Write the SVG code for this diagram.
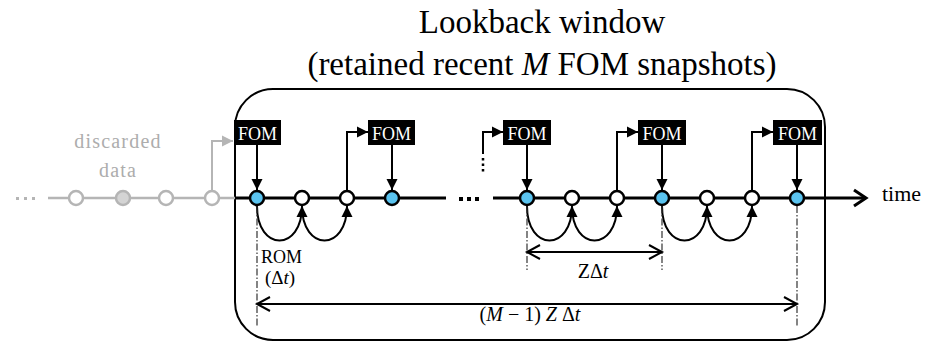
<svg xmlns="http://www.w3.org/2000/svg" width="934" height="344" viewBox="0 0 934 344">
  <style>
    .serif { font-family: "Liberation Serif", "Times New Roman", serif; }
    .title { font-family: "Liberation Serif", "Times New Roman", serif; font-size: 33px; fill: #000; text-anchor: middle; }
    .fomtxt { font-family: "Liberation Serif", "Times New Roman", serif; font-size: 18px; fill: #fff; text-anchor: middle; }
    .fombox { fill: #000; }
    .lbl { font-family: "Liberation Serif", "Times New Roman", serif; font-size: 18px; fill: #000; }
    .math { font-family: "Liberation Serif", "Times New Roman", serif; font-size: 20px; fill: #000; text-anchor: middle; }
    .gray { font-family: "Liberation Serif", "Times New Roman", serif; font-size: 20px; fill: #adadad; text-anchor: middle; letter-spacing: 1.2px; }
    .it { font-style: italic; }
    .axis { stroke: #000; stroke-width: 3; fill: none; }
    .axisg { stroke: #b5b5b5; stroke-width: 2.5; fill: none; }
    .link { stroke: #000; stroke-width: 2; fill: none; }
    .linkg { stroke: #b5b5b5; stroke-width: 2; fill: none; }
    .dd { stroke: #333; stroke-width: 1.2; stroke-dasharray: 7 2 1.5 2; fill: none; }
    .dim { stroke: #000; stroke-width: 2; fill: none; }
    .full { fill: #5ac3ef; stroke: #000; stroke-width: 2.5; }
    .rom { fill: #fff; stroke: #000; stroke-width: 2.5; }
    .old { fill: #fff; stroke: #b5b5b5; stroke-width: 2.5; }
    .oldf { fill: #d4d4d4; stroke: #b5b5b5; stroke-width: 2.5; }
  </style>
  <defs>
    <marker id="tri" markerUnits="userSpaceOnUse" markerWidth="12" markerHeight="12" viewBox="0 0 12 12" refX="11" refY="6" orient="auto">
      <path d="M0,0.5 L11,6 L0,11.5 Z" fill="#000"/>
    </marker>
    <marker id="trig" markerUnits="userSpaceOnUse" markerWidth="12" markerHeight="12" viewBox="0 0 12 12" refX="11" refY="6" orient="auto">
      <path d="M0,0.5 L11,6 L0,11.5 Z" fill="#b5b5b5"/>
    </marker>
    <marker id="chev" markerUnits="userSpaceOnUse" markerWidth="18" markerHeight="18" viewBox="0 0 18 18" refX="15" refY="9" orient="auto-start-reverse">
      <path d="M2,2 L15,9 L2,16" fill="none" stroke="#000" stroke-width="2"/>
    </marker>
  </defs>

  <!-- title -->
  <g id="title">
    <text class="title" x="542" y="33">Lookback window</text>
    <text class="title" x="542" y="75">(retained recent <tspan class="it">M</tspan> FOM snapshots)</text>
  </g>

  <!-- lookback window frame -->
  <g id="window">
    <rect x="235" y="89" width="590" height="251" rx="38" ry="38" fill="none" stroke="#000" stroke-width="2"/>
  </g>

  <!-- discarded history -->
  <g id="discarded">
    <text class="gray" x="118" y="148">discarded</text>
    <text class="gray" x="118" y="177">data</text>
    <rect x="16" y="197" width="3" height="3" fill="#b5b5b5"/>
    <rect x="24" y="197" width="3" height="3" fill="#b5b5b5"/>
    <rect x="32" y="197" width="3" height="3" fill="#b5b5b5"/>
  </g>

  <!-- connectors -->
  <g id="connectors">
    <!-- time axis -->
    <path class="axisg" d="M48,198 H235"/>
    <path class="axis" d="M235,198 H446"/>
    <path class="axis" d="M493,198 H866"/>
    <path d="M854,190 L866,198 L854,206" fill="none" stroke="#000" stroke-width="3"/>
    <rect x="459" y="197" width="4" height="4" fill="#000"/>
    <rect x="467" y="197" width="4" height="4" fill="#000"/>
    <rect x="475" y="197" width="4" height="4" fill="#000"/>

    <!-- FOM snapshots feeding the timeline -->
    <path class="link" d="M257,145 V190" marker-end="url(#tri)"/>
    <path class="link" d="M392,145 V190" marker-end="url(#tri)"/>
    <path class="link" d="M527,145 V190" marker-end="url(#tri)"/>
    <path class="link" d="M662,145 V190" marker-end="url(#tri)"/>
    <path class="link" d="M797,145 V190" marker-end="url(#tri)"/>

    <!-- restart from ROM state to next FOM -->
    <path class="linkg" d="M212,190 V141 H233" marker-end="url(#trig)"/>
    <path class="link" d="M347,190 V132 H368" marker-end="url(#tri)"/>
    <path class="link" d="M483,154 V132 H503" marker-end="url(#tri)"/>
    <path d="M483,158 V173" fill="none" stroke="#000" stroke-width="2.5" stroke-dasharray="2.5 3"/>
    <path class="link" d="M617,190 V132 H638" marker-end="url(#tri)"/>
    <path class="link" d="M752,190 V132 H773" marker-end="url(#tri)"/>

    <!-- ROM steps -->
    <path class="link" d="M257,206 C257,252 302,252 302,206" marker-end="url(#tri)"/>
    <path class="link" d="M302,206 C302,252 347,252 347,206" marker-end="url(#tri)"/>
    <path class="link" d="M527,206 C527,252 572,252 572,206" marker-end="url(#tri)"/>
    <path class="link" d="M572,206 C572,252 617,252 617,206" marker-end="url(#tri)"/>
    <path class="link" d="M662,206 C662,252 707,252 707,206" marker-end="url(#tri)"/>
    <path class="link" d="M707,206 C707,252 752,252 752,206" marker-end="url(#tri)"/>

    <!-- extension lines -->
    <path class="dd" d="M257,206 V326"/>
    <path class="dd" d="M527,206 V270"/>
    <path class="dd" d="M662,206 V270"/>
    <path class="dd" d="M797,206 V326"/>

    <!-- dimensions -->
    <path class="dim" d="M527,252 H662" marker-start="url(#chev)" marker-end="url(#chev)"/>
    <path class="dim" d="M257,304 H797" marker-start="url(#chev)" marker-end="url(#chev)"/>
  </g>

  <!-- old snapshots -->
  <g id="n_old1"><circle class="old" cx="76" cy="198" r="7"/></g>
  <g id="n_old2"><circle class="oldf" cx="123" cy="198" r="7"/></g>
  <g id="n_old3"><circle class="old" cx="166" cy="198" r="7"/></g>
  <g id="n_old4"><circle class="old" cx="212" cy="198" r="7"/></g>

  <!-- timeline states -->
  <g id="n_f1"><circle class="full" cx="257" cy="198" r="7"/></g>
  <g id="n_r1"><circle class="rom" cx="302" cy="198" r="7"/></g>
  <g id="n_r2"><circle class="rom" cx="347" cy="198" r="7"/></g>
  <g id="n_f2"><circle class="full" cx="392" cy="198" r="7"/></g>
  <g id="n_f3"><circle class="full" cx="527" cy="198" r="7"/></g>
  <g id="n_r3"><circle class="rom" cx="572" cy="198" r="7"/></g>
  <g id="n_r4"><circle class="rom" cx="617" cy="198" r="7"/></g>
  <g id="n_f4"><circle class="full" cx="662" cy="198" r="7"/></g>
  <g id="n_r5"><circle class="rom" cx="707" cy="198" r="7"/></g>
  <g id="n_r6"><circle class="rom" cx="752" cy="198" r="7"/></g>
  <g id="n_f5"><circle class="full" cx="797" cy="198" r="7"/></g>

  <!-- FOM snapshots -->
  <g id="fom1"><rect class="fombox" x="234" y="120" width="47" height="25"/><text class="fomtxt" x="257.5" y="140">FOM</text></g>
  <g id="fom2"><rect class="fombox" x="368" y="120" width="47" height="25"/><text class="fomtxt" x="391.5" y="140">FOM</text></g>
  <g id="fom3"><rect class="fombox" x="503" y="120" width="48" height="25"/><text class="fomtxt" x="527" y="140">FOM</text></g>
  <g id="fom4"><rect class="fombox" x="638" y="120" width="48" height="25"/><text class="fomtxt" x="662" y="140">FOM</text></g>
  <g id="fom5"><rect class="fombox" x="773" y="120" width="49" height="25"/><text class="fomtxt" x="797.5" y="140">FOM</text></g>

  <!-- labels -->
  <g id="labels">
    <text class="serif" x="882" y="201" font-size="22">time</text>
    <text class="lbl" x="261" y="263">ROM</text>
    <text class="lbl" x="265" y="284" font-size="19" style="font-size:19px">(Δ<tspan class="it">t</tspan>)</text>
    <text class="math" x="593" y="278">ZΔ<tspan class="it">t</tspan></text>
    <text class="math" x="530" y="321" xml:space="preserve">(<tspan class="it">M</tspan> − 1) <tspan class="it">Z</tspan> Δ<tspan class="it">t</tspan></text>
  </g>
</svg>
